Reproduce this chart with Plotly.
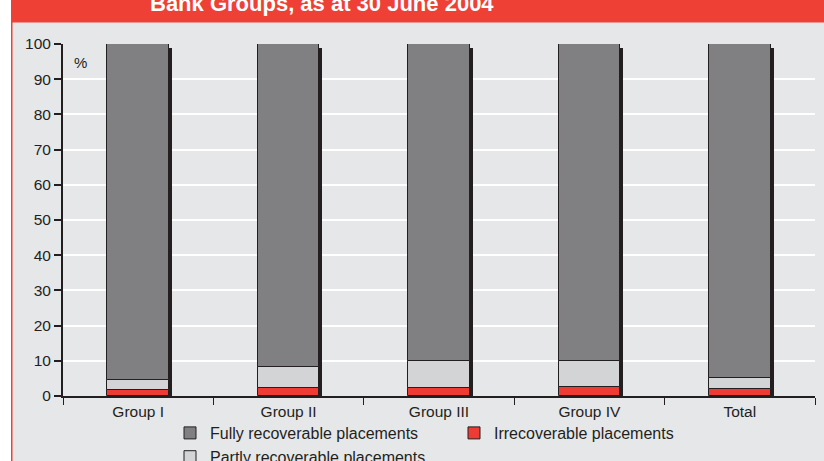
import plotly.graph_objects as go

categories = ["Group I", "Group II", "Group III", "Group IV", "Total"]
irrecoverable = [1.7, 2.4, 2.3, 2.7, 1.9]
partly = [2.8, 5.8, 7.7, 7.2, 3.1]
fully = [round(100 - a - b, 1) for a, b in zip(irrecoverable, partly)]
y_ticks = list(range(0, 101, 10))
title_text = "Bank Groups, as at 30 June 2004"

W, H = 824, 461
ml, mr, mt, mb = 63, 9, 44, 65
pw, ph = W - ml - mr, H - mt - mb

def px_x(p):
    return (p - ml) / pw

def px_y(p):
    return 1 - (p - mt) / ph

dark = "#231F20"
bw = 0.41

fig = go.Figure()
# shadow
fig.add_trace(go.Bar(
    x=categories, y=[100] * len(categories), base=[-1] * len(categories),
    width=bw, offset=-bw / 2 + 0.02, marker=dict(color=dark, line=dict(width=0)),
    showlegend=False, hoverinfo="skip"))
base_partly = irrecoverable
base_fully = [a + b for a, b in zip(irrecoverable, partly)]
fig.add_trace(go.Bar(
    x=categories, y=fully, base=base_fully, name="Fully recoverable placements",
    width=bw, offset=-bw / 2,
    marker=dict(color="#808083", line=dict(color=dark, width=1))))
fig.add_trace(go.Bar(
    x=categories, y=irrecoverable, base=[0] * len(categories), name="Irrecoverable placements",
    width=bw, offset=-bw / 2,
    marker=dict(color="#EE3B33", line=dict(color=dark, width=1))))
fig.add_trace(go.Bar(
    x=categories, y=partly, base=base_partly, name="Partly recoverable placements",
    width=bw, offset=-bw / 2,
    marker=dict(color="#D3D4D5", line=dict(color=dark, width=1))))

shapes = [
    dict(type="rect", xref="paper", yref="paper", x0=px_x(-5), x1=px_x(11),
         y0=px_y(H + 5), y1=px_y(-5), fillcolor="white", line=dict(width=0), layer="below"),
    dict(type="rect", xref="paper", yref="paper", x0=px_x(11), x1=px_x(12.5),
         y0=px_y(H + 5), y1=px_y(-5), fillcolor="#EF4036", line=dict(width=0), layer="below"),
    dict(type="rect", xref="paper", yref="paper", x0=px_x(11), x1=px_x(W + 5),
         y0=px_y(22.5), y1=px_y(-5), fillcolor="#EF4036", line=dict(width=0), layer="below"),
]

annotations = [
    dict(text="<b>" + title_text + "</b>", xref="paper", yref="paper",
         x=px_x(322), y=px_y(3), xanchor="center", yanchor="middle", showarrow=False,
         font=dict(family="Liberation Sans, Arial", size=22, color="white")),
    dict(text="%", xref="paper", yref="paper", x=px_x(72), y=px_y(62),
         xanchor="left", yanchor="middle", showarrow=False,
         font=dict(family="Liberation Sans, Arial", size=15, color=dark)),
]

fig.update_layout(
    width=W, height=H,
    margin=dict(l=ml, r=mr, t=mt, b=mb, autoexpand=False),
    paper_bgcolor="#E6E7E9", plot_bgcolor="#E6E7E9",
    barmode="overlay", bargap=0,
    font=dict(family="Liberation Sans, Arial", size=15, color=dark),
    shapes=shapes, annotations=annotations,
    legend=dict(orientation="h", x=px_x(170), y=px_y(416), xanchor="left", yanchor="top",
                entrywidth=239, font=dict(size=16, color=dark), bgcolor="rgba(0,0,0,0)",
                tracegroupgap=0, itemclick=False),
    xaxis=dict(type="category", tickson="boundaries", ticks="outside", ticklen=7,
               tickcolor=dark, tickwidth=1, showline=True, linecolor=dark, linewidth=2,
               showgrid=False, zeroline=False, tickfont=dict(size=15.5, color=dark)),
    yaxis=dict(range=[0, 100], tickvals=y_ticks, ticks="outside", ticklen=7,
               tickcolor=dark, tickwidth=1.5, showline=True, linecolor=dark, linewidth=2,
               showgrid=True, gridcolor="white", gridwidth=1.5, zeroline=False,
               tickfont=dict(size=15.5, color=dark)),
)

fig.write_html("out.html")
